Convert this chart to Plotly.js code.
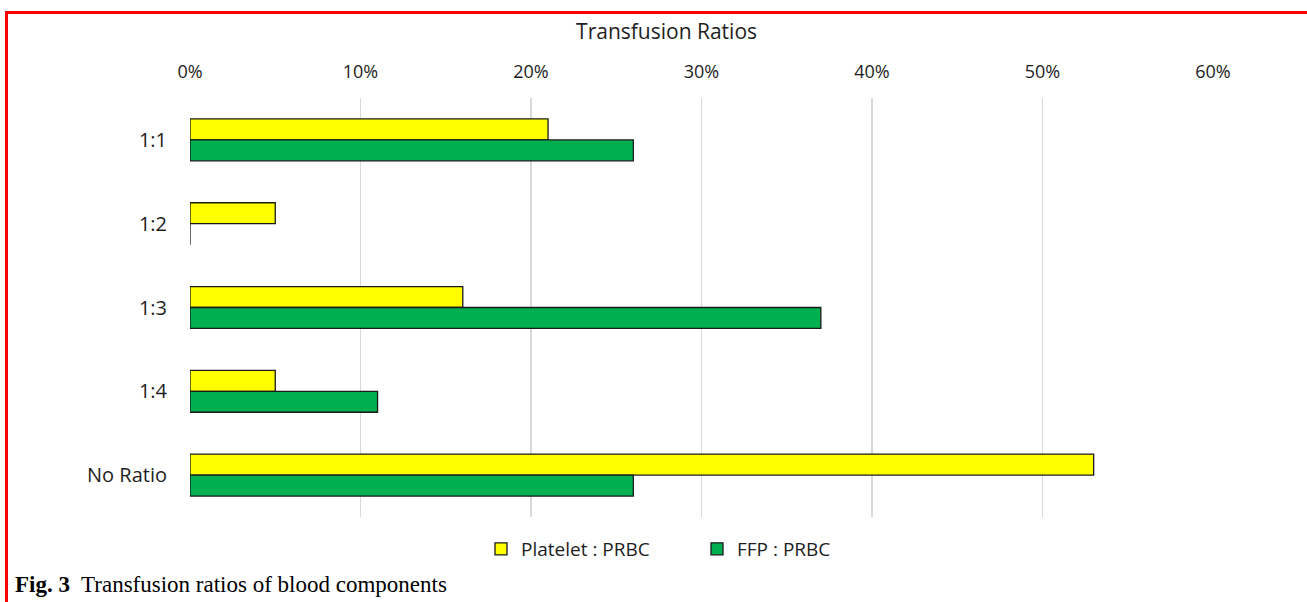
<!DOCTYPE html>
<html>
<head>
<meta charset="utf-8">
<script src="https://cdn.plot.ly/plotly-3.0.1.min.js"></script>
<style>
  html, body { margin: 0; padding: 0; background: #fff; }
  #wrap { position: relative; width: 1307px; height: 602px; overflow: hidden; }
  #chart { position: absolute; left: 0; top: 0; width: 1307px; height: 602px; }
  #frame { position: absolute; left: 5px; top: 11px; width: 1400px; height: 700px;
           border-top: 3px solid #ff0000; border-left: 3px solid #ff0000; pointer-events: none; }
</style>
</head>
<body>
<div id="wrap">
  <div id="chart"></div>
  <div id="frame"></div>
</div>
<script>
const categories = ['1:1', '1:2', '1:3', '1:4', 'No Ratio'];
const plateletValues = [0.21, 0.05, 0.16, 0.05, 0.53];
const ffpValues = [0.26, 0, 0.37, 0.11, 0.26];
const seriesNames = ['Platelet : PRBC', 'FFP : PRBC'];
const tickValues = [0, 0.1, 0.2, 0.3, 0.4, 0.5, 0.6];
const tickLabels = ['0%', '10%', '20%', '30%', '40%', '50%', '60%'];

const font = '"Open Sans", Lato, sans-serif';
const textColor = '#1e1e1e';

const traces = [
  {
    type: 'bar', orientation: 'h', name: seriesNames[0],
    y: categories, x: plateletValues,
    marker: { color: '#ffff00', line: { color: '#1a1a1a', width: 1.3 } },
    hoverinfo: 'x+y'
  },
  {
    type: 'bar', orientation: 'h', name: seriesNames[1],
    y: categories, x: ffpValues,
    marker: { color: '#00b050', line: { color: '#1a1a1a', width: 1.3 } },
    hoverinfo: 'x+y'
  }
];

const plotTop = 98, plotBottom = 517, plotLeft = 190, plotRight = 1213;
const plotH = plotBottom - plotTop, plotW = plotRight - plotLeft;

const layout = {
  width: 1307, height: 602,
  margin: { l: plotLeft, r: 1307 - plotRight, t: plotTop, b: 602 - plotBottom },
  paper_bgcolor: '#ffffff', plot_bgcolor: '#ffffff',
  font: { family: font, size: 18, color: textColor },
  title: {
    text: 'Transfusion Ratios',
    font: { family: font, size: 21, color: textColor },
    xref: 'container', yref: 'container',
    x: 0.51, xanchor: 'center', y: 1 - 32 / 602, yanchor: 'middle'
  },
  barmode: 'group', bargap: 0.5, bargroupgap: 0,
  xaxis: {
    side: 'top', range: [0, 0.6],
    tickvals: tickValues, ticktext: tickLabels,
    showgrid: true, gridcolor: '#d9d9d9', gridwidth: 1.5,
    zeroline: false, showline: false,
    ticks: 'outside', ticklen: 12, tickcolor: 'rgba(0,0,0,0)',
    tickfont: { family: font, size: 18, color: textColor }
  },
  yaxis: {
    type: 'category', autorange: 'reversed',
    showgrid: false, zeroline: false, showline: false,
    ticks: 'outside', ticklen: 18, tickcolor: 'rgba(0,0,0,0)',
    tickfont: { family: font, size: 20, color: textColor }
  },
  legend: {
    orientation: 'h', xref: 'container', yref: 'container',
    x: 697 / 1307, xanchor: 'center', y: 1 - 549 / 602, yanchor: 'middle',
    font: { family: font, size: 19, color: textColor },
    itemwidth: 30, entrywidth: 171
  },
  annotations: [
    {
      xref: 'paper', yref: 'paper',
      x: (13 - plotLeft) / plotW, xanchor: 'left',
      y: (plotBottom - 584) / plotH, yanchor: 'middle',
      showarrow: false,
      text: '<b>Fig. 3</b>  Transfusion ratios of blood components',
      font: { family: '"Liberation Serif", "Times New Roman", serif', size: 23, color: '#000000' }
    }
  ],
  showlegend: true
};

Plotly.newPlot('chart', traces, layout, { displayModeBar: false, staticPlot: true });
</script>
</body>
</html>
